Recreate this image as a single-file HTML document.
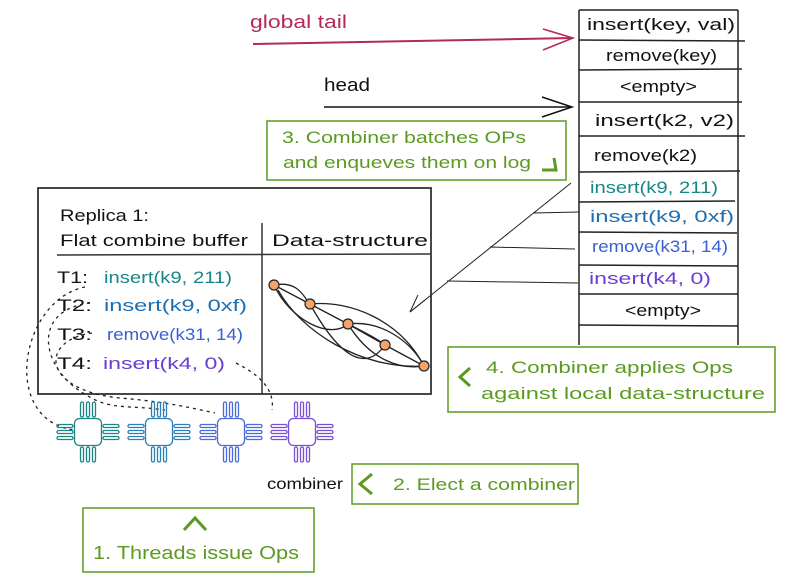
<!DOCTYPE html>
<html><head><style>
html,body{margin:0;padding:0;background:#fff}
svg{display:block}
text{font-family:"Liberation Sans",sans-serif}
</style></head><body>
<svg width="785" height="583" viewBox="0 0 785 583" xmlns="http://www.w3.org/2000/svg">
<defs>
<g id="chip" fill="none" stroke-width="1.3">
<rect x="-13.5" y="-13.5" width="27" height="27" rx="5"/>
<rect x="-7.5" y="-30" width="3" height="15" rx="1.5"/><rect x="-1.5" y="-30" width="3" height="15" rx="1.5"/><rect x="4.5" y="-30" width="3" height="15" rx="1.5"/>
<rect x="-7.5" y="15" width="3" height="15" rx="1.5"/><rect x="-1.5" y="15" width="3" height="15" rx="1.5"/><rect x="4.5" y="15" width="3" height="15" rx="1.5"/>
<rect x="-31" y="-7.5" width="16" height="3" rx="1.5"/><rect x="-31" y="-1.5" width="16" height="3" rx="1.5"/><rect x="-31" y="4.5" width="16" height="3" rx="1.5"/>
<rect x="15" y="-7.5" width="16" height="3" rx="1.5"/><rect x="15" y="-1.5" width="16" height="3" rx="1.5"/><rect x="15" y="4.5" width="16" height="3" rx="1.5"/>
</g>
</defs>
<g lengthAdjust="spacingAndGlyphs">
<text x="250" y="28" font-size="18" fill="#b5285a" textLength="97" lengthAdjust="spacingAndGlyphs">global tail</text>
<text x="324" y="91" font-size="18" fill="#111" textLength="46" lengthAdjust="spacingAndGlyphs">head</text>
</g>
<path d="M253 44 L573 38" stroke="#b5285a" stroke-width="2" fill="none"/>
<path d="M543 29 L573 38 L543 50" stroke="#b5285a" stroke-width="1.5" fill="none"/>
<path d="M324 107 L572 107" stroke="#111" stroke-width="1.5" fill="none"/>
<path d="M542 97 L572 107 L542 117" stroke="#111" stroke-width="1.5" fill="none"/>
<!-- log -->
<g stroke="#222" stroke-width="1.5" fill="none">
<path d="M579 10 L579 345 M738 10 L738 345 M579 10 L738 10"/>
<path d="M579 40 L745 41 M579 70 L742 69 M579 102 L742 102 M579 136 L745 136 M579 172 L740 171 M579 202 L735 201 M579 232 L737 233 M579 265 L738 266 M579 294 L738 294 M579 325 L738 326"/>
</g>
<g font-size="17">
<text x="587" y="30" fill="#111" textLength="148" lengthAdjust="spacingAndGlyphs">insert(key, val)</text>
<text x="606" y="61" fill="#111" textLength="111" lengthAdjust="spacingAndGlyphs">remove(key)</text>
<text x="620" y="92" fill="#111" textLength="77" lengthAdjust="spacingAndGlyphs">&lt;empty&gt;</text>
<text x="595" y="126" fill="#111" textLength="139" lengthAdjust="spacingAndGlyphs">insert(k2, v2)</text>
<text x="594" y="161" fill="#111" textLength="103" lengthAdjust="spacingAndGlyphs">remove(k2)</text>
<text x="590" y="193" fill="#1a8585" textLength="128" lengthAdjust="spacingAndGlyphs">insert(k9, 211)</text>
<text x="590" y="222" fill="#1f6fb0" textLength="144" lengthAdjust="spacingAndGlyphs">insert(k9, 0xf)</text>
<text x="592" y="252" fill="#3a5fd0" textLength="136" lengthAdjust="spacingAndGlyphs">remove(k31, 14)</text>
<text x="589" y="284" fill="#6a3fd0" textLength="122" lengthAdjust="spacingAndGlyphs">insert(k4, 0)</text>
<text x="625" y="316" fill="#111" textLength="76" lengthAdjust="spacingAndGlyphs">&lt;empty&gt;</text>
</g>
<!-- box 3 -->
<rect x="267" y="121" width="299" height="59" fill="none" stroke="#5b9a21" stroke-width="1.5"/>
<text x="282" y="143" font-size="17" fill="#5b9a21" textLength="244" lengthAdjust="spacingAndGlyphs">3. Combiner batches OPs</text>
<text x="283" y="168" font-size="17" fill="#5b9a21" textLength="248" lengthAdjust="spacingAndGlyphs">and enqueves them on log</text>
<path d="M542 170 L556 170 L554 158" stroke="#5b9a21" stroke-width="3" fill="none"/>
<g stroke="#222" stroke-width="1" fill="none">
<path d="M571 183 L410 312 M533 213 L579 212 M490 247 L575 249 M447 281 L578 283"/>
<path d="M410 312 L418 295 M410 312 L425 300"/>
</g>
<!-- replica -->
<rect x="38" y="188" width="393" height="206" fill="none" stroke="#333" stroke-width="1.8"/>
<path d="M57 255 L430 254" stroke="#333" stroke-width="1.5"/>
<path d="M262 223 L262 394" stroke="#333" stroke-width="1.5"/>
<g font-size="17">
<text x="60" y="221" fill="#111" textLength="89" lengthAdjust="spacingAndGlyphs">Replica 1:</text>
<text x="60" y="246" fill="#111" textLength="188" lengthAdjust="spacingAndGlyphs">Flat combine buffer</text>
<text x="272" y="246" fill="#111" textLength="156" lengthAdjust="spacingAndGlyphs">Data-structure</text>
<text x="57" y="283" fill="#111" textLength="31" lengthAdjust="spacingAndGlyphs">T1:</text><text x="104" y="283" fill="#1a8585" textLength="128" lengthAdjust="spacingAndGlyphs">insert(k9, 211)</text>
<text x="57" y="311" fill="#111" textLength="35" lengthAdjust="spacingAndGlyphs">T2:</text><text x="104" y="311" fill="#1f6fb0" textLength="143" lengthAdjust="spacingAndGlyphs">insert(k9, 0xf)</text>
<text x="57" y="340" fill="#111" textLength="35" lengthAdjust="spacingAndGlyphs">T3:</text><text x="107" y="340" fill="#3a5fd0" textLength="136" lengthAdjust="spacingAndGlyphs">remove(k31, 14)</text>
<text x="57" y="369" fill="#111" textLength="35" lengthAdjust="spacingAndGlyphs">T4:</text><text x="103" y="369" fill="#6a3fd0" textLength="122" lengthAdjust="spacingAndGlyphs">insert(k4, 0)</text>
</g>
<!-- ds graph -->
<g stroke="#222" stroke-width="1.3" fill="none">
<path d="M274 285 L310 304 L348 324 L385 345 L424 366"/>
<path d="M274 285 C300 280 305 300 310 304 C350 300 400 320 424 366"/>
<path d="M274 285 C290 320 330 340 348 324 C360 330 380 340 385 345"/>
<path d="M278 290 C300 330 360 370 424 366"/>
<path d="M310 304 C330 340 360 380 385 345 M348 324 C380 320 410 340 424 366 M348 324 C370 360 400 370 424 366"/>
</g>
<g fill="#f4a36a" stroke="#222" stroke-width="1.2">
<circle cx="274" cy="285" r="5"/><circle cx="310" cy="304" r="5"/><circle cx="348" cy="324" r="5"/><circle cx="385" cy="345" r="5"/><circle cx="424" cy="366" r="5"/>
</g>
<g stroke="#222" stroke-width="1.3" fill="none" stroke-dasharray="3 4">
<path d="M85 287 C20 300 0 420 74 430"/>
<path d="M90 303 C30 310 40 370 88 396 C110 410 130 405 165 410"/>
<path d="M92 333 C40 340 40 390 120 398 C170 402 200 410 215 413"/>
<path d="M236 363 C260 375 275 390 272 410"/>
</g>
<use href="#chip" transform="translate(88,432)" stroke="#1a8585"/>
<use href="#chip" transform="translate(159,432)" stroke="#2a7fb8"/>
<use href="#chip" transform="translate(231,432)" stroke="#4a6ad8"/>
<use href="#chip" transform="translate(302,432)" stroke="#7a4fd8"/>
<text x="267" y="489" font-size="16" fill="#111" textLength="76" lengthAdjust="spacingAndGlyphs">combiner</text>
<rect x="352" y="464" width="226" height="40" fill="none" stroke="#5b9a21" stroke-width="1.5"/>
<path d="M372 474 L360 484 L372 494" stroke="#5b9a21" stroke-width="3" fill="none"/>
<text x="393" y="490" font-size="17" fill="#5b9a21" textLength="182" lengthAdjust="spacingAndGlyphs">2. Elect a combiner</text>
<rect x="83" y="508" width="231" height="64" fill="none" stroke="#5b9a21" stroke-width="1.5"/>
<path d="M184 530 L195 518 L206 530" stroke="#5b9a21" stroke-width="3" fill="none"/>
<text x="93" y="559" font-size="18" fill="#5b9a21" textLength="206" lengthAdjust="spacingAndGlyphs">1. Threads issue Ops</text>
<rect x="448" y="347" width="327" height="65" fill="none" stroke="#5b9a21" stroke-width="1.5"/>
<path d="M470 368 L460 377 L470 386" stroke="#5b9a21" stroke-width="3" fill="none"/>
<text x="486" y="373" font-size="17" fill="#5b9a21" textLength="247" lengthAdjust="spacingAndGlyphs">4. Combiner applies Ops</text>
<text x="481" y="399" font-size="17" fill="#5b9a21" textLength="284" lengthAdjust="spacingAndGlyphs">against local data-structure</text>
</svg>
</body></html>
